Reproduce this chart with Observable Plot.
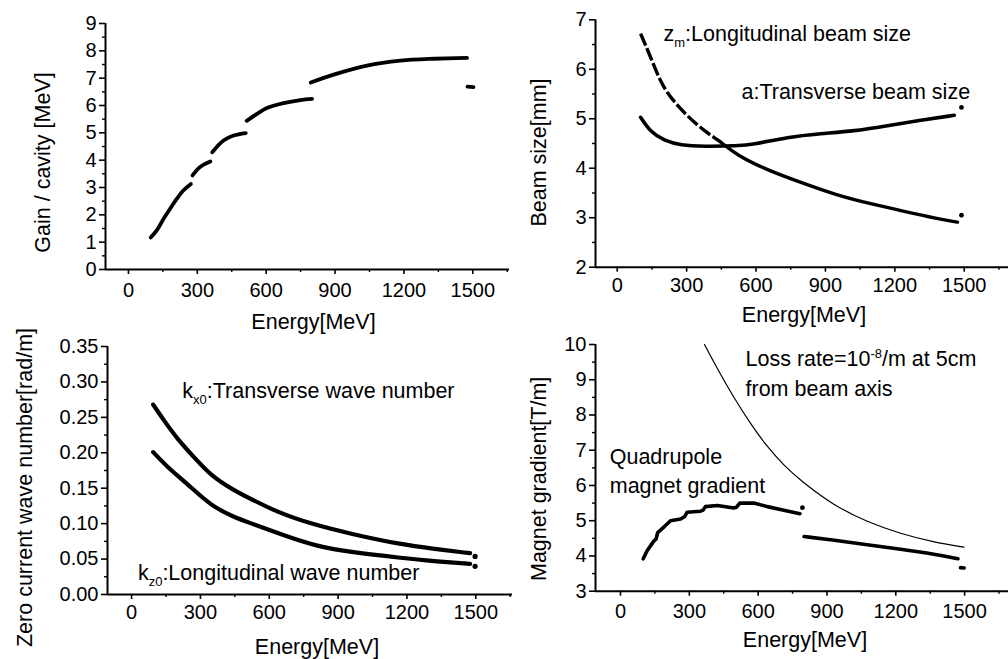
<!DOCTYPE html>
<html>
<head>
<meta charset="utf-8">
<script src="https://cdn.jsdelivr.net/npm/d3@7"></script>
<script src="https://cdn.jsdelivr.net/npm/@observablehq/plot@0.6"></script>
<style>
  body { margin: 0; background: #fff; }
  #fig { position: relative; width: 1008px; height: 659px; overflow: hidden; background: #fff; }
  #fig svg { position: absolute; overflow: visible; background: transparent; }
</style>
</head>
<body>
<div id="fig"></div>
<script>
const FONT = '"Liberation Sans", Arial, Helvetica, sans-serif';

// Energy axis ticks (MeV), shared by all four panels
const energyMajor = [0, 300, 600, 900, 1200, 1500];
const energyMinor = [150, 450, 750, 1050, 1350, 1650];

// Energy gain per cavity [MeV]; each run is one stretch between cavity changes
const gainRuns = [
  [[97, 1.17], [124, 1.44], [153, 1.86], [182, 2.23], [211, 2.59], [240, 2.9], [272, 3.13]],
  [[279, 3.44], [312, 3.75], [357, 3.95]],
  [[365, 4.29], [414, 4.72], [458, 4.9], [511, 4.99]],
  [[515, 5.44], [560, 5.69], [603, 5.91], [676, 6.09], [749, 6.2], [800, 6.24]],
  [[794, 6.84], [894, 7.13], [1039, 7.46], [1185, 7.64], [1330, 7.71], [1475, 7.74]],
  [[1477, 6.69], [1503, 6.67]]
];

// Beam sizes [mm]
const zmSteep = [[101, 6.72], [144, 6.25], [187, 5.74], [231, 5.42], [303, 5.05], [375, 4.76], [447, 4.53]];
const zmRest = [[447, 4.53], [519, 4.26], [640, 3.98], [807, 3.69], [952, 3.45], [1096, 3.28], [1240, 3.13], [1385, 2.98], [1471, 2.91]];
const zmLast = [[1488, 3.05]];
const aSize = [[101, 5.03], [144, 4.73], [202, 4.56], [274, 4.46], [375, 4.44], [519, 4.45], [591, 4.48], [736, 4.63], [880, 4.7], [1024, 4.75], [1168, 4.86], [1312, 4.97], [1457, 5.07]];
const aLast = [[1488, 5.23]];

// Zero current wave numbers [rad/m]
const kx0 = [[94, 0.268], [141, 0.2456], [199, 0.2197], [272, 0.1938], [344, 0.168], [446, 0.1468], [519, 0.135], [635, 0.1162], [781, 0.0997], [955, 0.0856], [1173, 0.0706], [1318, 0.0644], [1475, 0.0583]];
const kx0Last = [[1497, 0.0538]];
const kz0 = [[94, 0.2009], [156, 0.1797], [243, 0.1562], [344, 0.1256], [446, 0.1091], [519, 0.1007], [664, 0.0833], [810, 0.0677], [955, 0.0597], [1173, 0.0517], [1318, 0.047], [1475, 0.0433]];
const kz0Last = [[1497, 0.0397]];

// Quadrupole magnet gradient [T/m] and the loss-rate limit
const quadLow = [[99, 3.92], [116, 4.15], [145, 4.42], [155, 4.48], [162, 4.66], [189, 4.82], [218, 5.0], [262, 5.05], [280, 5.12], [290, 5.24], [349, 5.27], [360, 5.3], [370, 5.4], [422, 5.43], [494, 5.36], [505, 5.38], [520, 5.5], [581, 5.5], [640, 5.4], [712, 5.3], [782, 5.2]];
const quadJump = [[793, 5.37]];
const quadHigh = [[800, 4.55], [930, 4.45], [1076, 4.32], [1221, 4.19], [1366, 4.06], [1471, 3.92]];
const quadLast = [[1482, 3.67], [1498, 3.66]];
const lossLimit = [[366, 10.0], [422, 9.31], [494, 8.49], [567, 7.75], [640, 7.09], [712, 6.57], [785, 6.14], [930, 5.43], [1076, 4.96], [1221, 4.63], [1366, 4.39], [1497, 4.25]];

const range = (a, b, s) => d3.range(a, b + s / 2, s);

const pts = (arr) => arr.map(([e, v]) => ({e, v}));

function curve(arr, opts = {}) {
  return Plot.line(pts(arr), {x: "e", y: "v", stroke: "black", strokeWidth: 3.6,
    strokeLinecap: "round", strokeLinejoin: "round", curve: "catmull-rom", ...opts});
}
function spot(arr, r = 2.4) {
  return Plot.dot(pts(arr), {x: "e", y: "v", r, fill: "black", stroke: "none"});
}
function note(str, e, v) {
  return Plot.text([str], {x: () => e, y: () => v, text: d => d, textAnchor: "start",
    lineAnchor: "bottom", fontSize: 21.5, fill: "black"});
}

// Replace _{..} and ^{..} in rendered labels with sub/superscript tspans
function richText(svg) {
  svg.querySelectorAll("text").forEach(t => {
    const s = t.textContent;
    if (!/[_^]\{/.test(s)) return;
    const re = /([_^])\{([^}]*)\}/g;
    const parts = [];
    let last = 0, m;
    while ((m = re.exec(s))) {
      if (m.index > last) parts.push({txt: s.slice(last, m.index)});
      parts.push({txt: m[2], kind: m[1]});
      last = re.lastIndex;
    }
    if (last < s.length) parts.push({txt: s.slice(last)});
    t.textContent = "";
    let shift = 0;
    for (const p of parts) {
      const ts = document.createElementNS("http://www.w3.org/2000/svg", "tspan");
      ts.textContent = p.txt;
      const target = p.kind === "_" ? 6 : p.kind === "^" ? -8 : 0;
      ts.setAttribute("dy", target - shift);
      shift = target;
      if (p.kind) ts.setAttribute("font-size", 13);
      t.appendChild(ts);
    }
  });
}

function panel(cfg) {
  const {left, top, width, height, mL, mT, mB, xDomain, yDomain, yMajor, yMinor,
    yFormat = d => String(d), xPad, yTitle, yDx, yDy, xDx, xDy, marks} = cfg;
  const svg = Plot.plot({
    width, height,
    marginLeft: mL, marginTop: mT, marginBottom: mB, marginRight: 0,
    style: {fontFamily: FONT, fontSize: "20px", color: "black", background: "transparent", overflow: "visible"},
    x: {domain: xDomain},
    y: {domain: yDomain},
    marks: [
      Plot.axisY(yMajor, {anchor: "left", tickSize: 6, tickPadding: 3, tickFormat: yFormat,
        label: null, fontSize: 20, strokeWidth: 1.6}),
      Plot.axisY(yMinor, {anchor: "left", tickSize: 3, tickFormat: () => "", label: null, strokeWidth: 1.4}),
      Plot.axisX(energyMajor, {anchor: "bottom", tickSize: 5, tickPadding: xPad, tickFormat: d => String(d),
        label: null, fontSize: 20, strokeWidth: 1.6}),
      Plot.axisX(energyMinor, {anchor: "bottom", tickSize: 3, tickFormat: () => "", label: null, strokeWidth: 1.4}),
      Plot.ruleX([xDomain[0]], {stroke: "black", strokeWidth: 2}),
      Plot.ruleY([yDomain[0]], {stroke: "black", strokeWidth: 2}),
      Plot.text([yTitle], {text: d => d, frameAnchor: "left", rotate: -90, textAnchor: "middle",
        lineAnchor: "middle", dx: yDx, dy: yDy, fontSize: 21.5, fill: "black"}),
      Plot.text(["Energy[MeV]"], {text: d => d, frameAnchor: "bottom", textAnchor: "middle",
        lineAnchor: "top", dx: xDx, dy: xDy, fontSize: 21.5, fill: "black"}),
      ...marks
    ]
  });
  svg.style.left = left + "px";
  svg.style.top = top + "px";
  richText(svg);
  document.getElementById("fig").appendChild(svg);
}

// Gain per cavity
panel({
  left: 0, top: 0, width: 509, height: 330, mL: 105, mT: 23, mB: 61,
  xDomain: [-100, 1660], yDomain: [0, 9],
  yMajor: range(0, 9, 1), yMinor: range(0.5, 8.5, 1),
  xPad: 8, yTitle: "Gain / cavity [MeV]", yDx: -62, yDy: 16, xDx: 6, xDy: 44,
  marks: gainRuns.map(run => curve(run, {strokeWidth: 3.8}))
});

// Beam sizes
panel({
  left: 504, top: 0, width: 506, height: 330, mL: 91, mT: 19.3, mB: 63.3,
  xDomain: [-94, 1700], yDomain: [2, 7],
  yMajor: range(2, 7, 1), yMinor: range(2.5, 6.5, 1),
  xPad: 6, yTitle: "Beam size[mm]", yDx: -56, yDy: 9, xDx: 1, xDy: 40,
  marks: [
    curve(zmSteep, {strokeWidth: 3.4, strokeDasharray: "13 3", strokeLinecap: "butt", curve: "basis"}),
    curve(zmRest, {strokeWidth: 3.4, curve: "basis"}),
    spot(zmLast),
    curve(aSize, {strokeWidth: 3.6, curve: "basis"}),
    spot(aLast),
    note("z_{m}:Longitudinal beam size", 200, 6.58),
    note("a:Transverse beam size", 537, 5.4)
  ]
});

// Zero current wave numbers
panel({
  left: 0, top: 330, width: 512, height: 329, mL: 107, mT: 16, mB: 65,
  xDomain: [-105, 1660], yDomain: [0, 0.35],
  yMajor: range(0, 0.35, 0.05), yMinor: range(0.025, 0.325, 0.05), yFormat: d3.format(".2f"),
  xPad: 5, yTitle: "Zero current wave number[rad/m]", yDx: -82, yDy: 17, xDx: 7, xDy: 44,
  marks: [
    curve(kx0, {strokeWidth: 4.2, curve: "basis"}),
    spot(kx0Last, 2.6),
    curve(kz0, {strokeWidth: 4.2, curve: "basis"}),
    spot(kz0Last, 2.6),
    note("k_{x0}:Transverse wave number", 221, 0.2776),
    note("k_{z0}:Longitudinal wave number", 27.5, 0.0207)
  ]
});

// Magnet gradient
panel({
  left: 504, top: 330, width: 506, height: 329, mL: 91, mT: 14, mB: 68.3,
  xDomain: [-109, 1700], yDomain: [3, 10],
  yMajor: range(3, 10, 1), yMinor: range(3.5, 9.5, 1),
  xPad: 8, yTitle: "Magnet gradient[T/m]", yDx: -56, yDy: 11, xDx: 2, xDy: 41,
  marks: [
    curve(quadLow, {strokeWidth: 3.6, curve: "linear"}),
    spot(quadJump),
    curve(quadHigh, {strokeWidth: 3.6, curve: "basis"}),
    curve(quadLast, {strokeWidth: 3.6}),
    curve(lossLimit, {strokeWidth: 1.2, curve: "basis"}),
    note("Loss rate=10^{-8}/m at 5cm", 545, 9.4),
    note("from beam axis", 545, 8.55),
    note("Quadrupole", -47, 6.62),
    note("magnet gradient", -47, 5.78)
  ]
});
</script>
</body>
</html>
